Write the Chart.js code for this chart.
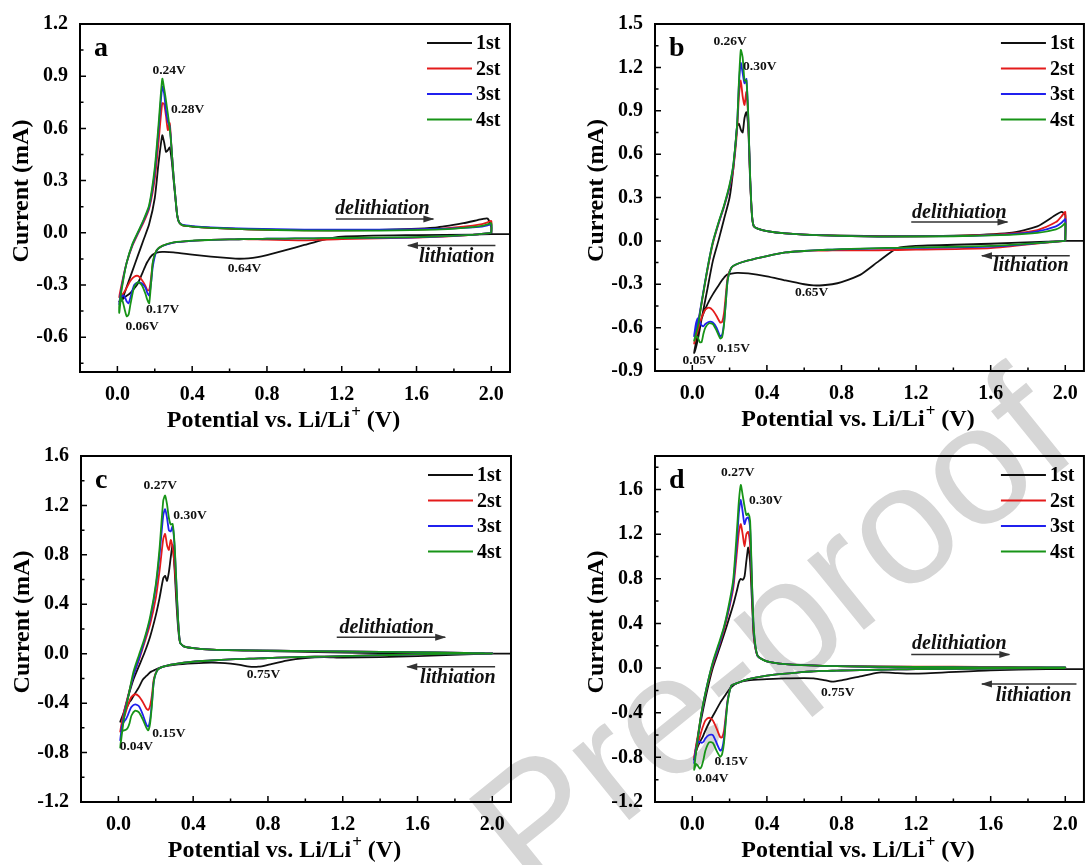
<!DOCTYPE html>
<html>
<head>
<meta charset="utf-8">
<script src="https://cdn.jsdelivr.net/npm/chart.js@4.4.1/dist/chart.umd.min.js"></script>
<style>
html,body{margin:0;padding:0;background:#fff;}
#wrap{position:relative;width:1089px;height:865px;overflow:hidden;background:#fff;}
canvas{position:absolute;z-index:1;}
#wm{position:absolute;left:770px;top:630px;transform:translate(-50%,-50%) rotate(-39deg);font:170px "Liberation Sans",Arial,sans-serif;color:#d6d6d6;white-space:nowrap;z-index:0;line-height:1;}
</style>
</head>
<body>
<div id="wrap">
<div id="wm">Pre-proof</div>
<canvas id="ca" width="545" height="432" style="left:0px;top:0px;width:545px;height:432px"></canvas>
<canvas id="cb" width="544" height="432" style="left:545px;top:0px;width:544px;height:432px"></canvas>
<canvas id="cc" width="545" height="433" style="left:0px;top:432px;width:545px;height:433px"></canvas>
<canvas id="cd" width="544" height="433" style="left:545px;top:432px;width:544px;height:433px"></canvas>
</div>
<script>
// ---------- shared potential grids (V) ----------
const DOWN_X = [2.12, 2.0, 1.9, 1.6, 1.2, 1.1, 1.0, 0.9, 0.8, 0.75, 0.7, 0.65, 0.6, 0.5, 0.4, 0.3, 0.24, 0.21, 0.19, 0.18, 0.17, 0.16, 0.15, 0.13, 0.11, 0.09, 0.07, 0.06, 0.05, 0.04, 0.03, 0.02, 0.01];
const UP_X = [0.01, 0.03, 0.05, 0.08, 0.11, 0.14, 0.17, 0.2, 0.22, 0.24, 0.25, 0.26, 0.27, 0.28, 0.29, 0.3, 0.31, 0.32, 0.33, 0.35, 0.4, 0.5, 0.7, 1.0, 1.4, 1.7, 1.85, 1.95, 1.98, 2.0];
const CYCLES = ['1st', '2st', '3st', '4st'];
const X_TICKS = [0.0, 0.4, 0.8, 1.2, 1.6, 2.0];
const X_MINOR = [0.2, 0.6, 1.0, 1.4, 1.8];

// ---------- panel a (current, mA) ----------
const A_DOWN_1 = [-0.008, -0.008, -0.01, -0.013, -0.022, -0.04, -0.07, -0.1, -0.128, -0.14, -0.147, -0.149, -0.146, -0.137, -0.125, -0.112, -0.11, -0.114, -0.125, -0.135, -0.15, -0.168, -0.19, -0.24, -0.29, -0.32, -0.345, -0.355, -0.362, -0.37, -0.38, -0.39, -0.395];
const A_UP_1 = [-0.395, -0.37, -0.31, -0.22, -0.13, -0.04, 0.05, 0.2, 0.4, 0.56, 0.52, 0.465, 0.475, 0.49, 0.42, 0.31, 0.2, 0.1, 0.06, 0.043, 0.036, 0.028, 0.02, 0.015, 0.017, 0.03, 0.055, 0.078, 0.082, 0.03];
const A_DOWN_2 = [null, 0.0, -0.012, -0.028, -0.036, -0.04, -0.044, -0.042, -0.039, -0.038, -0.037, -0.037, -0.038, -0.041, -0.046, -0.056, -0.075, -0.1, -0.17, -0.26, -0.33, -0.33, -0.305, -0.27, -0.248, -0.252, -0.275, -0.295, -0.315, -0.335, -0.35, -0.362, -0.37];
const A_UP_2 = [-0.37, -0.26, -0.17, -0.075, -0.005, 0.06, 0.14, 0.31, 0.52, 0.745, 0.74, 0.67, 0.59, 0.63, 0.48, 0.33, 0.21, 0.1, 0.06, 0.043, 0.036, 0.028, 0.02, 0.014, 0.015, 0.022, 0.035, 0.05, 0.06, 0.068];
const A_DOWN_3 = [null, 0.0, -0.012, -0.026, -0.03, -0.031, -0.032, -0.033, -0.034, -0.035, -0.036, -0.037, -0.038, -0.041, -0.046, -0.056, -0.076, -0.102, -0.19, -0.29, -0.36, -0.345, -0.315, -0.29, -0.285, -0.3, -0.37, -0.405, -0.395, -0.37, -0.36, -0.375, -0.41];
const A_UP_3 = [-0.41, -0.27, -0.17, -0.07, 0.0, 0.07, 0.15, 0.35, 0.59, 0.84, 0.8, 0.7, 0.64, 0.61, 0.48, 0.33, 0.21, 0.1, 0.06, 0.045, 0.038, 0.031, 0.024, 0.018, 0.018, 0.022, 0.028, 0.036, 0.042, 0.048];
const A_DOWN_4 = [null, 0.0, -0.012, -0.025, -0.03, -0.031, -0.032, -0.033, -0.034, -0.035, -0.036, -0.037, -0.038, -0.041, -0.045, -0.055, -0.075, -0.1, -0.165, -0.29, -0.405, -0.385, -0.35, -0.3, -0.284, -0.31, -0.41, -0.47, -0.48, -0.445, -0.4, -0.375, -0.46];
const A_UP_4 = [-0.42, -0.28, -0.17, -0.065, 0.005, 0.075, 0.16, 0.375, 0.62, 0.885, 0.83, 0.76, 0.683, 0.6, 0.48, 0.33, 0.21, 0.1, 0.06, 0.043, 0.036, 0.028, 0.02, 0.013, 0.013, 0.018, 0.028, 0.04, 0.048, 0.055];
const A_Y_TICKS = [-0.6, -0.3, 0.0, 0.3, 0.6, 0.9, 1.2];
const A_Y_MINOR = [-0.75, -0.45, -0.15, 0.15, 0.45, 0.75, 1.05];

// ---------- panel b ----------
const B_DOWN_1 = [0.0, 0.0, -0.005, -0.02, -0.035, -0.05, -0.14, -0.235, -0.285, -0.3, -0.307, -0.308, -0.3, -0.274, -0.245, -0.225, -0.222, -0.226, -0.232, -0.24, -0.255, -0.27, -0.29, -0.33, -0.37, -0.415, -0.47, -0.5, -0.54, -0.59, -0.64, -0.7, -0.775];
const B_UP_1 = [-0.775, -0.68, -0.54, -0.34, -0.14, 0.0, 0.15, 0.3, 0.5, 0.79, 0.81, 0.77, 0.75, 0.85, 0.89, 0.78, 0.42, 0.17, 0.1, 0.085, 0.068, 0.052, 0.04, 0.033, 0.036, 0.055, 0.1, 0.18, 0.2, 0.18];
const B_DOWN_2 = [null, 0.0, -0.012, -0.05, -0.06, -0.063, -0.065, -0.065, -0.065, -0.066, -0.067, -0.068, -0.07, -0.08, -0.105, -0.135, -0.16, -0.185, -0.25, -0.37, -0.5, -0.56, -0.565, -0.52, -0.48, -0.462, -0.475, -0.5, -0.53, -0.57, -0.62, -0.66, -0.71];
const B_UP_2 = [-0.71, -0.58, -0.43, -0.21, -0.02, 0.115, 0.235, 0.37, 0.5, 0.76, 1.0, 1.11, 1.0, 0.94, 1.03, 0.84, 0.44, 0.18, 0.1, 0.085, 0.068, 0.052, 0.038, 0.03, 0.034, 0.05, 0.075, 0.13, 0.17, 0.2];
const B_DOWN_3 = [null, 0.0, -0.01, -0.04, -0.048, -0.05, -0.052, -0.055, -0.058, -0.06, -0.063, -0.066, -0.07, -0.08, -0.105, -0.135, -0.16, -0.185, -0.27, -0.42, -0.57, -0.65, -0.66, -0.6, -0.565, -0.56, -0.575, -0.59, -0.585, -0.56, -0.535, -0.57, -0.66];
const B_UP_3 = [-0.66, -0.57, -0.42, -0.2, -0.01, 0.12, 0.24, 0.38, 0.52, 0.8, 1.08, 1.23, 1.16, 1.09, 1.12, 0.86, 0.45, 0.18, 0.1, 0.085, 0.068, 0.052, 0.038, 0.03, 0.033, 0.045, 0.065, 0.1, 0.125, 0.15];
const B_DOWN_4 = [null, 0.0, -0.01, -0.035, -0.045, -0.048, -0.05, -0.053, -0.057, -0.06, -0.063, -0.066, -0.07, -0.08, -0.105, -0.135, -0.16, -0.185, -0.27, -0.42, -0.58, -0.665, -0.675, -0.62, -0.575, -0.57, -0.6, -0.64, -0.7, -0.7, -0.67, -0.66, -0.69];
const B_UP_4 = [-0.69, -0.59, -0.43, -0.2, -0.01, 0.125, 0.245, 0.39, 0.53, 0.8, 1.1, 1.32, 1.27, 1.11, 1.11, 0.87, 0.45, 0.18, 0.1, 0.085, 0.068, 0.052, 0.038, 0.03, 0.032, 0.042, 0.055, 0.08, 0.1, 0.12];
const B_Y_TICKS = [-0.9, -0.6, -0.3, 0.0, 0.3, 0.6, 0.9, 1.2, 1.5];
const B_Y_MINOR = [-0.75, -0.45, -0.15, 0.15, 0.45, 0.75, 1.05, 1.35];

// ---------- panel c ----------
const C_DOWN_1 = [0.0, 0.0, -0.003, -0.02, -0.032, -0.027, -0.035, -0.055, -0.09, -0.105, -0.105, -0.09, -0.08, -0.072, -0.078, -0.09, -0.105, -0.12, -0.135, -0.142, -0.15, -0.165, -0.18, -0.21, -0.27, -0.32, -0.37, -0.39, -0.42, -0.45, -0.48, -0.51, -0.55];
const C_UP_1 = [-0.55, -0.47, -0.36, -0.21, -0.1, 0.01, 0.14, 0.31, 0.45, 0.61, 0.63, 0.59, 0.66, 0.78, 0.88, 0.7, 0.42, 0.2, 0.09, 0.06, 0.045, 0.033, 0.025, 0.015, 0.005, 0.0, 0.0, 0.0, 0.0, 0.0];
const C_DOWN_2 = [null, 0.0, 0.0, -0.005, -0.02, -0.023, -0.026, -0.03, -0.035, -0.038, -0.04, -0.043, -0.046, -0.055, -0.065, -0.085, -0.105, -0.13, -0.2, -0.33, -0.42, -0.455, -0.445, -0.39, -0.345, -0.328, -0.35, -0.38, -0.42, -0.47, -0.52, -0.57, -0.63];
const C_UP_2 = [-0.63, -0.47, -0.35, -0.18, -0.05, 0.09, 0.24, 0.45, 0.67, 0.93, 0.97, 0.88, 0.84, 0.92, 0.86, 0.72, 0.5, 0.25, 0.09, 0.06, 0.045, 0.033, 0.027, 0.021, 0.015, 0.01, 0.007, 0.004, 0.003, 0.003];
const C_DOWN_3 = [null, 0.0, 0.0, -0.005, -0.02, -0.023, -0.026, -0.03, -0.035, -0.038, -0.04, -0.043, -0.046, -0.055, -0.065, -0.085, -0.105, -0.13, -0.22, -0.39, -0.53, -0.59, -0.575, -0.49, -0.425, -0.41, -0.43, -0.46, -0.5, -0.53, -0.55, -0.58, -0.7];
const C_UP_3 = [-0.7, -0.5, -0.36, -0.18, -0.04, 0.11, 0.28, 0.54, 0.8, 1.12, 1.17, 1.1, 1.0, 0.99, 1.03, 0.88, 0.57, 0.26, 0.09, 0.06, 0.045, 0.033, 0.027, 0.021, 0.015, 0.01, 0.007, 0.004, 0.003, 0.003];
const C_DOWN_4 = [null, 0.0, 0.0, -0.005, -0.02, -0.023, -0.026, -0.03, -0.035, -0.038, -0.04, -0.043, -0.046, -0.055, -0.065, -0.085, -0.105, -0.13, -0.22, -0.4, -0.56, -0.62, -0.6, -0.53, -0.475, -0.46, -0.5, -0.56, -0.6, -0.615, -0.62, -0.63, -0.76];
const C_UP_4 = [-0.76, -0.52, -0.37, -0.15, -0.01, 0.125, 0.3, 0.56, 0.85, 1.24, 1.28, 1.21, 1.1, 1.045, 1.05, 0.9, 0.58, 0.26, 0.09, 0.06, 0.045, 0.033, 0.027, 0.021, 0.015, 0.01, 0.007, 0.004, 0.003, 0.003];
const C_Y_TICKS = [-1.2, -0.8, -0.4, 0.0, 0.4, 0.8, 1.2, 1.6];
const C_Y_MINOR = [-1.0, -0.6, -0.2, 0.2, 0.6, 1.0, 1.4];

// ---------- panel d ----------
const D_DOWN_1 = [-0.01, -0.01, -0.01, -0.02, -0.05, -0.045, -0.04, -0.075, -0.11, -0.122, -0.105, -0.092, -0.09, -0.092, -0.1, -0.11, -0.135, -0.17, -0.21, -0.235, -0.26, -0.285, -0.31, -0.37, -0.43, -0.49, -0.56, -0.6, -0.635, -0.665, -0.7, -0.75, -0.82];
const D_UP_1 = [-0.82, -0.62, -0.44, -0.2, 0.0, 0.15, 0.3, 0.46, 0.57, 0.7, 0.77, 0.8, 0.79, 0.82, 0.96, 1.08, 0.95, 0.6, 0.28, 0.11, 0.06, 0.035, 0.02, 0.01, 0.004, 0.0, 0.0, -0.005, -0.01, -0.01];
const D_DOWN_2 = [null, 0.0, 0.0, -0.005, -0.01, -0.012, -0.015, -0.018, -0.022, -0.024, -0.026, -0.03, -0.034, -0.05, -0.068, -0.1, -0.135, -0.155, -0.28, -0.42, -0.56, -0.62, -0.62, -0.54, -0.47, -0.445, -0.47, -0.51, -0.56, -0.62, -0.68, -0.74, -0.8];
const D_UP_2 = [-0.8, -0.6, -0.4, -0.16, 0.03, 0.18, 0.34, 0.55, 0.72, 1.05, 1.22, 1.29, 1.2, 1.09, 1.2, 1.22, 1.1, 0.7, 0.3, 0.11, 0.06, 0.035, 0.02, 0.014, 0.012, 0.01, 0.008, 0.006, 0.006, 0.006];
const D_DOWN_3 = [null, 0.0, 0.0, -0.005, -0.01, -0.012, -0.015, -0.018, -0.022, -0.024, -0.026, -0.03, -0.034, -0.05, -0.068, -0.1, -0.135, -0.155, -0.29, -0.45, -0.63, -0.72, -0.74, -0.67, -0.6, -0.6, -0.63, -0.66, -0.67, -0.66, -0.67, -0.72, -0.85];
const D_UP_3 = [-0.85, -0.62, -0.4, -0.15, 0.045, 0.19, 0.36, 0.57, 0.76, 1.15, 1.4, 1.51, 1.4, 1.29, 1.34, 1.35, 1.25, 0.76, 0.33, 0.11, 0.06, 0.035, 0.02, 0.012, 0.008, 0.006, 0.005, 0.005, 0.005, 0.005];
const D_DOWN_4 = [null, 0.0, 0.0, -0.005, -0.01, -0.012, -0.015, -0.018, -0.022, -0.024, -0.026, -0.03, -0.034, -0.05, -0.068, -0.1, -0.135, -0.155, -0.3, -0.47, -0.67, -0.77, -0.795, -0.74, -0.67, -0.665, -0.74, -0.82, -0.88, -0.9, -0.875, -0.86, -0.91];
const D_UP_4 = [-0.91, -0.62, -0.39, -0.15, 0.055, 0.21, 0.37, 0.6, 0.8, 1.25, 1.5, 1.64, 1.55, 1.45, 1.37, 1.385, 1.32, 0.78, 0.35, 0.11, 0.06, 0.035, 0.02, 0.012, 0.008, 0.006, 0.005, 0.005, 0.005, 0.005];
const D_Y_TICKS = [-1.2, -0.8, -0.4, 0.0, 0.4, 0.8, 1.2, 1.6];
const D_Y_MINOR = [-1.0, -0.6, -0.2, 0.2, 0.6, 1.0, 1.4, 1.8];

// ---------- styling / layout ----------
const COLORS = ['#101010', '#e41b1b', '#2020ee', '#179417'];
const SERIF = '"Liberation Serif", "Times New Roman", serif';

const PANELS = [
  { id: 'ca', letter: 'a', left: 0, top: 0, w: 545, h: 432, L: 80, R: 510, T: 23, B: 372,
    yMin: -0.8, yMax: 1.2, yTicks: A_Y_TICKS, yMinor: A_Y_MINOR,
    down: [A_DOWN_1, A_DOWN_2, A_DOWN_3, A_DOWN_4], up: [A_UP_1, A_UP_2, A_UP_3, A_UP_4],
    notes: [['0.24V', 0.277, 0.934], ['0.28V', 0.376, 0.706], ['0.17V', 0.242, -0.44], ['0.06V', 0.132, -0.536], ['0.64V', 0.68, -0.205]],
    deli: { x: 1.417, y: 0.138, a0: 1.169, a1: 1.69, ay: 0.08 },
    li: { x: 1.815, y: -0.14, a0: 1.554, a1: 2.022, ay: -0.073 } },
  { id: 'cb', letter: 'b', left: 545, top: 0, w: 544, h: 432, L: 655, R: 1084, T: 21, B: 371,
    yMin: -0.9, yMax: 1.5, yTicks: B_Y_TICKS, yMinor: B_Y_MINOR,
    down: [B_DOWN_1, B_DOWN_2, B_DOWN_3, B_DOWN_4], up: [B_UP_1, B_UP_2, B_UP_3, B_UP_4],
    notes: [['0.26V', 0.203, 1.378], ['0.30V', 0.362, 1.207], ['0.15V', 0.22, -0.747], ['0.05V', 0.037, -0.83], ['0.65V', 0.64, -0.36]],
    deli: { x: 1.432, y: 0.194, a0: 1.174, a1: 1.69, ay: 0.13 },
    li: { x: 1.815, y: -0.176, a0: 1.553, a1: 2.024, ay: -0.103 } },
  { id: 'cc', letter: 'c', left: 0, top: 432, w: 545, h: 433, L: 81, R: 511, T: 454, B: 802,
    yMin: -1.2, yMax: 1.6, yTicks: C_Y_TICKS, yMinor: C_Y_MINOR,
    down: [C_DOWN_1, C_DOWN_2, C_DOWN_3, C_DOWN_4], up: [C_UP_1, C_UP_2, C_UP_3, C_UP_4],
    notes: [['0.27V', 0.224, 1.358], ['0.30V', 0.383, 1.117], ['0.15V', 0.27, -0.642], ['0.04V', 0.096, -0.749], ['0.75V', 0.776, -0.172]],
    deli: { x: 1.435, y: 0.21, a0: 1.168, a1: 1.748, ay: 0.134 },
    li: { x: 1.816, y: -0.193, a0: 1.545, a1: 2.015, ay: -0.105 } },
  { id: 'cd', letter: 'd', left: 545, top: 432, w: 544, h: 433, L: 655, R: 1084, T: 453, B: 802,
    yMin: -1.2, yMax: 1.9, yTicks: D_Y_TICKS, yMinor: D_Y_MINOR,
    down: [D_DOWN_1, D_DOWN_2, D_DOWN_3, D_DOWN_4], up: [D_UP_1, D_UP_2, D_UP_3, D_UP_4],
    notes: [['0.27V', 0.244, 1.752], ['0.30V', 0.394, 1.502], ['0.15V', 0.209, -0.84], ['0.04V', 0.105, -0.989], ['0.75V', 0.78, -0.223]],
    deli: { x: 1.432, y: 0.214, a0: 1.174, a1: 1.70, ay: 0.122 },
    li: { x: 1.83, y: -0.246, a0: 1.553, a1: 2.06, ay: -0.143 } }
];

function loopPoints(down, up) {
  const pts = [];
  DOWN_X.forEach((x, i) => { if (down[i] !== null) pts.push({ x: x, y: down[i] }); });
  UP_X.forEach((x, i) => {
    const p = { x: x, y: up[i] };
    const l = pts[pts.length - 1];
    if (!(l.x === p.x && l.y === p.y)) pts.push(p);
  });
  // close the loop at the upper vertex
  pts.push({ x: DOWN_X[1], y: down[1] });
  return pts;
}

function drawArrow(ctx, x0, x1, y, headRight) {
  ctx.beginPath();
  ctx.moveTo(x0, y); ctx.lineTo(x1, y);
  ctx.stroke();
  ctx.beginPath();
  if (headRight) { ctx.moveTo(x1 + 1, y); ctx.lineTo(x1 - 10, y - 3.5); ctx.lineTo(x1 - 10, y + 3.5); }
  else { ctx.moveTo(x0 - 1, y); ctx.lineTo(x0 + 10, y - 3.5); ctx.lineTo(x0 + 10, y + 3.5); }
  ctx.closePath(); ctx.fill();
}

function makeDecor(P) {
  return {
    id: 'decor_' + P.id,
    afterDraw(chart) {
      const ctx = chart.ctx, a = chart.chartArea, xs = chart.scales.x, ys = chart.scales.y;
      ctx.save();
      // frame
      ctx.strokeStyle = '#000'; ctx.lineWidth = 2;
      ctx.strokeRect(a.left, a.top, a.right - a.left, a.bottom - a.top);
      // inward ticks
      ctx.lineWidth = 1.5;
      ctx.beginPath();
      X_TICKS.forEach(v => { const p = xs.getPixelForValue(v); ctx.moveTo(p, a.bottom); ctx.lineTo(p, a.bottom - 6); });
      X_MINOR.forEach(v => { const p = xs.getPixelForValue(v); ctx.moveTo(p, a.bottom); ctx.lineTo(p, a.bottom - 3.5); });
      P.yTicks.forEach(v => { const p = ys.getPixelForValue(v); ctx.moveTo(a.left, p); ctx.lineTo(a.left + 6, p); });
      P.yMinor.forEach(v => { const p = ys.getPixelForValue(v); ctx.moveTo(a.left, p); ctx.lineTo(a.left + 3.5, p); });
      ctx.stroke();

      ctx.fillStyle = '#000';
      // panel letter
      ctx.font = 'bold 28px ' + SERIF;
      ctx.textAlign = 'left'; ctx.textBaseline = 'alphabetic';
      ctx.fillText(P.letter, a.left + 14, a.top + 32);

      // legend
      chart.data.datasets.forEach((ds, i) => {
        const yy = a.top + 19 + 25.5 * i;
        ctx.strokeStyle = ds.borderColor; ctx.lineWidth = 2;
        ctx.beginPath(); ctx.moveTo(a.right - 83, yy); ctx.lineTo(a.right - 38, yy); ctx.stroke();
        ctx.fillStyle = '#000';
        ctx.font = 'bold 20px ' + SERIF;
        ctx.textAlign = 'left'; ctx.textBaseline = 'middle';
        ctx.fillText(ds.label, a.right - 34, yy + 1);
      });

      // peak labels
      ctx.fillStyle = '#111';
      ctx.font = 'bold 13.5px ' + SERIF;
      ctx.textAlign = 'center'; ctx.textBaseline = 'middle';
      P.notes.forEach(n => ctx.fillText(n[0], xs.getPixelForValue(n[1]), ys.getPixelForValue(n[2])));

      // process labels with arrows
      ctx.font = 'italic bold 20px ' + SERIF;
      ctx.textBaseline = 'middle';
      ctx.fillStyle = '#111';
      ctx.fillText('delithiation', xs.getPixelForValue(P.deli.x), ys.getPixelForValue(P.deli.y));
      ctx.fillText('lithiation', xs.getPixelForValue(P.li.x), ys.getPixelForValue(P.li.y));
      ctx.strokeStyle = '#333'; ctx.fillStyle = '#333'; ctx.lineWidth = 1.5;
      drawArrow(ctx, xs.getPixelForValue(P.deli.a0), xs.getPixelForValue(P.deli.a1), ys.getPixelForValue(P.deli.ay), true);
      drawArrow(ctx, xs.getPixelForValue(P.li.a0), xs.getPixelForValue(P.li.a1), ys.getPixelForValue(P.li.ay), false);

      // axis titles
      ctx.fillStyle = '#000';
      const f1 = 'bold 24px ' + SERIF, f2 = 'bold 17px ' + SERIF;
      const s1 = 'Potential vs. Li/Li', s2 = '+', s3 = ' (V)';
      ctx.font = f1; const w1 = ctx.measureText(s1).width, w3 = ctx.measureText(s3).width;
      ctx.font = f2; const w2 = ctx.measureText(s2).width;
      const cx = (a.left + a.right) / 2 - 12, by = a.bottom + 55;
      let x0 = cx - (w1 + w2 + w3) / 2;
      ctx.textAlign = 'left'; ctx.textBaseline = 'alphabetic';
      ctx.font = f1; ctx.fillText(s1, x0, by);
      ctx.font = f2; ctx.fillText(s2, x0 + w1 + 1, by - 10);
      ctx.font = f1; ctx.fillText(s3, x0 + w1 + w2 + 1, by);

      ctx.save();
      ctx.translate(a.left - 58, (a.top + a.bottom) / 2 - 7);
      ctx.rotate(-Math.PI / 2);
      ctx.textAlign = 'center'; ctx.textBaseline = 'middle';
      ctx.font = f1;
      ctx.fillText('Current (mA)', 0, 0);
      ctx.restore();

      ctx.restore();
    }
  };
}

PANELS.forEach(P => {
  const datasets = CYCLES.map((lab, i) => ({
    label: lab,
    data: loopPoints(P.down[i], P.up[i]),
    showLine: true,
    borderColor: COLORS[i],
    backgroundColor: COLORS[i],
    borderWidth: 1.8,
    pointRadius: 0,
    pointHoverRadius: 0,
    tension: 0.22,
    fill: false,
    order: 3 - i
  }));
  const yW = P.L - P.left, xH = (P.top + P.h) - P.B;
  new Chart(document.getElementById(P.id), {
    type: 'scatter',
    data: { datasets: datasets },
    options: {
      responsive: false,
      animation: false,
      events: [],
      layout: { padding: { top: P.T - P.top, right: (P.left + P.w) - P.R, left: 0, bottom: 0 } },
      plugins: { legend: { display: false }, tooltip: { enabled: false } },
      scales: {
        x: {
          type: 'linear', min: -0.2, max: 2.1,
          grid: { display: false, drawTicks: false },
          border: { display: false },
          afterBuildTicks: s => { s.ticks = X_TICKS.map(v => ({ value: v })); },
          afterFit: s => { s.height = xH; },
          ticks: { autoSkip: false, maxRotation: 0, padding: 11, color: '#000',
                   font: { family: SERIF, weight: 'bold', size: 20 },
                   callback: v => Number(v).toFixed(1) }
        },
        y: {
          type: 'linear', min: P.yMin, max: P.yMax,
          grid: { display: false, drawTicks: false },
          border: { display: false },
          afterBuildTicks: s => { s.ticks = P.yTicks.map(v => ({ value: v })); },
          afterFit: s => { s.width = yW; },
          ticks: { autoSkip: false, padding: 12, color: '#000',
                   font: { family: SERIF, weight: 'bold', size: 20 },
                   callback: v => Number(v).toFixed(1) }
        }
      }
    },
    plugins: [makeDecor(P)]
  });
});
</script>
</body>
</html>
